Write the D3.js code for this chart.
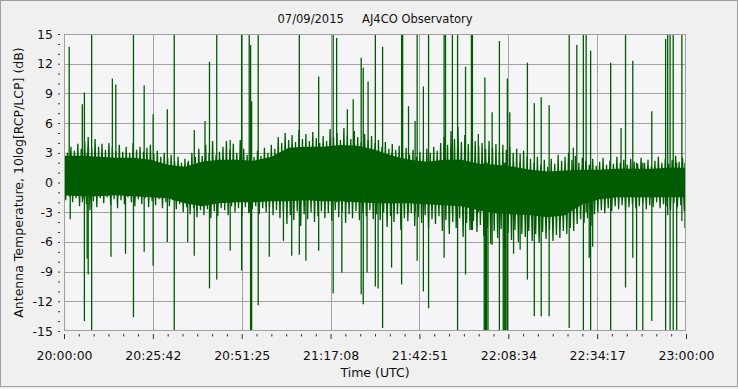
<!DOCTYPE html>
<html><head><meta charset="utf-8">
<script src="https://cdn.jsdelivr.net/npm/d3@7"></script>
<style>
body{margin:0;background:#f0f0f0}
svg{display:block}
text{font-family:"DejaVu Sans",sans-serif;fill:#111}
</style></head>
<body><svg id="c" width="738" height="389"></svg>
<script>
// ---- DATA (minutes after 20:00:00 UTC, values in dB) ----
const title = "07/09/2015     AJ4CO Observatory";
const yLabel = "Antenna Temperature, 10log[RCP/LCP] (dB)";
const xLabel = "Time (UTC)";
const xTickLabels = ["20:00:00","20:25:42","20:51:25","21:17:08","21:42:51","22:08:34","22:34:17","23:00:00"];
const yTickValues = [-15,-12,-9,-6,-3,0,3,6,9,12,15];
// dense-band fringe envelope, one value per minute (t = 0..180): max and min within each minute
const bandHi = [3.7,3.0,3.6,3.2,3.9,3.4,4.1,4.6,3.5,4.4,3.6,3.9,3.3,4.0,3.6,3.2,3.8,3.1,3.6,3.0,
 4.0,3.3,3.6,3.1,3.5,3.8,2.9,3.2,2.6,3.0,2.5,2.8,2.2,2.6,2.0,2.4,2.2,3.0,2.6,3.4,
 2.7,3.8,3.0,4.2,2.8,3.1,3.6,4.2,3.3,3.9,3.0,4.3,3.4,2.8,3.6,2.6,3.2,2.7,3.5,3.0,
 3.8,3.4,4.6,4.0,5.0,4.3,4.8,4.1,5.3,4.4,4.9,4.2,5.1,4.5,4.0,4.7,4.2,5.4,4.6,5.0,
 4.3,5.5,4.8,4.4,5.2,4.6,4.1,4.9,4.3,4.7,4.0,4.3,3.6,4.1,3.4,3.9,3.3,3.7,3.0,3.5,
 2.8,3.3,2.6,3.1,2.9,3.4,3.0,3.6,3.2,4.0,4.6,3.8,5.2,4.4,5.6,4.1,4.8,3.9,5.0,4.2,
 3.7,4.0,3.4,4.2,3.5,3.9,3.1,3.8,3.3,3.6,3.0,3.4,2.9,3.2,2.6,2.4,2.0,2.6,1.8,2.3,
 1.6,2.4,1.9,2.8,2.2,2.6,3.0,2.3,2.7,2.0,2.5,2.2,1.8,2.4,1.7,2.1,2.5,1.8,2.2,1.9,
 2.6,2.0,2.3,1.8,2.4,2.1,1.9,2.5,2.0,2.3,1.7,2.2,2.6,2.0,2.4,1.9,2.3,2.7,2.1,2.5,2.2];
const bandLo = [-1.8,-1.4,-2.0,-1.6,-2.4,-1.7,-2.2,-2.8,-1.9,-2.5,-1.6,-2.1,-1.5,-2.3,-1.7,-2.6,-1.8,-2.2,-1.5,-2.0,
 -2.4,-1.7,-2.2,-1.6,-2.5,-1.9,-2.3,-1.7,-2.6,-2.0,-2.4,-1.8,-2.7,-2.2,-3.0,-2.5,-3.2,-2.6,-3.5,-2.8,
 -3.3,-2.7,-3.6,-2.9,-3.4,-2.6,-2.8,-3.3,-2.4,-3.0,-2.6,-3.4,-2.5,-3.1,-2.7,-2.4,-3.2,-2.6,-3.0,-2.5,
 -3.3,-2.8,-3.6,-3.0,-4.2,-3.3,-3.8,-2.9,-4.4,-3.2,-3.7,-3.0,-4.0,-3.4,-2.9,-3.6,-3.1,-3.9,-2.8,-3.5,
 -3.0,-4.1,-3.2,-3.6,-2.9,-3.8,-3.1,-3.4,-2.8,-3.7,-3.2,-3.8,-3.0,-4.5,-3.4,-4.0,-3.2,-4.8,-3.6,-3.9,
 -3.1,-4.4,-3.5,-4.1,-3.3,-4.6,-3.7,-4.2,-3.4,-4.9,-3.8,-5.2,-4.0,-4.6,-3.6,-5.5,-4.1,-4.8,-3.9,-5.0,
 -4.3,-5.4,-4.6,-6.2,-4.9,-5.6,-4.7,-6.6,-5.1,-5.8,-4.8,-6.0,-5.2,-5.5,-4.9,-5.9,-5.2,-6.1,-5.0,-5.7,
 -4.8,-5.9,-5.3,-5.6,-4.9,-5.2,-4.6,-4.9,-4.2,-3.7,-4.1,-3.6,-4.4,-3.2,-3.0,-2.8,-3.1,-2.6,-2.9,-2.4,
 -2.7,-2.3,-2.8,-2.5,-2.2,-2.6,-2.4,-2.1,-2.7,-2.3,-2.5,-2.0,-2.6,-2.2,-2.4,-2.8,-2.1,-2.5,-2.3,-2.9,-2.4];
// solid core of the band, one value per 5 minutes (t = 0,5,..,180)
const coreHi = [2.7,2.7,2.6,2.5,2.5,2.3,1.8,1.6,2.1,2.3,2.3,2.2,2.6,3.5,3.6,3.6,3.8,3.7,3.3,2.7,
 2.3,2.1,2.3,2.3,1.9,1.8,1.6,1.3,1.1,1.2,1.3,1.3,1.4,1.4,1.4,1.5,1.5];
const coreLo = [-1.3,-1.4,-1.4,-1.3,-1.4,-1.5,-1.6,-2.1,-2.4,-2.1,-2.0,-2.0,-1.9,-1.9,-1.8,-1.9,-1.9,-2.0,-2.1,-2.1,
 -2.1,-2.2,-2.3,-2.4,-2.8,-3.1,-3.2,-3.3,-3.5,-3.3,-2.2,-1.7,-1.5,-1.5,-1.5,-1.5,-1.5];
// isolated spikes: [minute, low dB, high dB]
const spikes = [
 [1.5,-1.0,13.7],[1.8,-3.7,2.0],[5.3,-2.0,7.9],[5.9,-14.0,9.1],[6.7,-7.7,3.0],[7.0,-9.3,3.5],[8.0,-15,15],
 [13.6,-7.5,2.0],[14.0,-1.0,10.5],[15.0,-1.0,9.9],[17.8,-7.2,2.0],[20.1,-13.6,15],[23.2,-7.0,9.8],
 [25.8,-8.4,6.9],[29.9,-6.0,7.4],[31.9,-15,15],[35.8,-6.0,2.0],[37.7,-7.4,5.3],[40.8,-2.0,6.2],
 [42.1,-10.7,12.2],[44.2,-9.8,15],[48.1,-6.9,4.3],[51.4,-8.9,15],[53.6,-3.0,15],[54.0,-15,13.9],
 [54.3,-15,8.2],[56.2,-12.4,15],[59.4,-7.5,2.0],[63.5,-5.9,3.0],[65.9,-7.4,3.0],[68.1,-7.3,15],
 [70.0,-7.9,3.0],[73.7,-6.9,10.7],[77.9,-11.2,15],[78.9,-2.0,14.6],[80.4,-9.1,3.0],[82.0,-2.0,7.4],
 [83.7,-2.0,8.4],[86.0,-11.3,12.6],[86.6,-12.3,11.6],[87.7,-9.1,3.0],[88.0,-2.0,10.2],[90.1,-10.5,15],
 [90.9,-10.7,3.0],[92.2,-14.7,13.7],[94.8,-8.6,3.0],[97.7,-10.3,15],[98.0,-2.0,15],[99.7,-3.0,7.7],
 [101.6,-3.0,6.2],[102.2,-7.9,15],[104.0,-11.0,9.7],[105.5,-12.7,15],[110.0,-7.6,15],[110.4,-2.0,15],
 [112.4,-3.0,15],[113.9,-15,15],[116.2,-9.3,11.7],[117.9,-4.8,15],[118.2,-4.8,15],[119.9,-3.0,4.9],
 [121.6,-15,2.0],[121.8,-15,10.6],[122.0,-15,2.0],[122.3,-15,2.0],[122.7,-15,2.0],[123.9,-6.3,7.1],
 [126.0,-15,14.3],[127.1,-15,2.0],[127.4,-15,2.0],[127.7,-15,2.0],[127.9,-15,2.0],[128.3,-15,10.5],
 [129.0,-3.0,7.1],[130.1,-7.2,2.0],[132.0,-6.8,2.0],[134.1,-9.8,12.1],[136.1,-13.5,8.0],[138.1,-13.5,8.6],
 [140.4,-13.5,7.8],[146.2,-14.7,15],[147.4,-2.0,3.5],[148.4,-3.0,13.9],[150.3,-15,15],[151.1,-3.0,15],
 [152.0,-7.6,1.0],[152.4,-15,13.3],[153.0,-6.5,1.0],[158.2,-15,12.1],[161.2,-1.0,5.5],[162.5,-10.6,15],
 [164.6,-7.6,12.3],[165.7,-15,2.0],[167.5,-15,2.0],[170.1,-14.0,7.2],[174.1,-15,14.5],[174.7,-3.3,15],
 [175.4,-15,15],[176.3,-15,15],[177.3,-15,2.0],[178.8,-3.9,15],[179.7,-4.6,2.0]
];

// ---- LAYOUT ----
const svg = d3.select("#c");
const W = 738, H = 389;
const L = 64, R = 686, T = 34, B = 331;
const x = d3.scaleLinear().domain([0,180]).range([L,R]);
const y = d3.scaleLinear().domain([-15,15]).range([B,T]);
const green = "#005c00";

svg.append("rect").attr("x",0.5).attr("y",0.5).attr("width",W-1).attr("height",H-3)
  .attr("fill","#f0f0f0").attr("stroke","#a0a0a0");
svg.append("rect").attr("x",L).attr("y",T).attr("width",R-L).attr("height",B-T).attr("fill","#f5f5f8");

const majorX = d3.range(8).map(i => i*180/7);
const minorX = d3.range(43).map(i => i*180/42);
const minorY = d3.range(-15,16,1);

// grid
const grid = svg.append("g").attr("stroke","#a3a3a3").attr("stroke-width",1);
grid.selectAll(".gx").data(majorX.slice(1,-1)).join("line")
  .attr("x1",d=>Math.round(x(d))+0.5).attr("x2",d=>Math.round(x(d))+0.5).attr("y1",T).attr("y2",B);
grid.selectAll(".gy").data(yTickValues.slice(1,-1)).join("line")
  .attr("y1",d=>Math.round(y(d))+0.5).attr("y2",d=>Math.round(y(d))+0.5).attr("x1",L).attr("x2",R);

// clip
svg.append("clipPath").attr("id","pc").append("rect").attr("x",L).attr("y",T).attr("width",R-L).attr("height",B-T);
const plot = svg.append("g").attr("clip-path","url(#pc)");

// core band
const coreData = coreHi.map((h,i)=>({t:i*5,h,l:coreLo[i]}));
plot.append("path").datum(coreData)
  .attr("d", d3.area().x(d=>x(d.t)).y0(d=>y(d.l)).y1(d=>y(d.h)))
  .attr("fill",green);

// noise trace: in each minute the signal reaches its high, then its low half a minute later
const trace = [];
bandHi.forEach((h,i)=>{ trace.push([i,h]); if (i < 180) trace.push([i+0.5,bandLo[i]]); });
plot.append("path").datum(trace)
  .attr("d", d3.line().x(d=>x(d[0])).y(d=>y(d[1])))
  .attr("fill","none").attr("stroke",green).attr("stroke-width",1.3).attr("stroke-linejoin","miter");

// spikes
plot.append("g").attr("stroke",green).attr("stroke-width",1.3)
  .selectAll("line").data(spikes).join("line")
  .attr("x1",d=>x(d[0])).attr("x2",d=>x(d[0])).attr("y1",d=>y(d[1])).attr("y2",d=>y(d[2]));

// border
svg.append("rect").attr("x",L+0.5).attr("y",T+0.5).attr("width",R-L-1).attr("height",B-T-1)
  .attr("fill","none").attr("stroke","#a0a0a0");

// x axis
const xAxis = d3.axisBottom(x).tickValues(majorX).tickSize(5).tickPadding(12)
  .tickFormat((d,i)=>xTickLabels[i]);
const gx = svg.append("g").attr("transform",`translate(0,${B+3})`).call(xAxis);
gx.select(".domain").remove();
gx.selectAll("text").attr("font-size",12.5).attr("fill","#111");
gx.selectAll("line").attr("stroke","#333");
const gxm = svg.append("g").attr("transform",`translate(0,${B+3})`)
  .call(d3.axisBottom(x).tickValues(minorX.filter((d,i)=>i%6)).tickSize(2.5).tickFormat(""));
gxm.select(".domain").remove(); gxm.selectAll("line").attr("stroke","#333");

// y axis
const yAxis = d3.axisLeft(y).tickValues(yTickValues).tickSize(2).tickPadding(5).tickFormat(d3.format("d"));
const gy = svg.append("g").attr("transform",`translate(${L-4},0)`).call(yAxis);
gy.select(".domain").remove();
gy.selectAll("text").attr("font-size",12.5).attr("fill","#111").text(d=>d<0?"-"+Math.abs(d):d);
gy.selectAll("line").attr("stroke","#333");
const gym = svg.append("g").attr("transform",`translate(${L-4},0)`)
  .call(d3.axisLeft(y).tickValues(minorY.filter(d=>d%3!==0)).tickSize(2).tickFormat(""));
gym.select(".domain").remove(); gym.selectAll("line").attr("stroke","#333");

// titles
svg.append("text").attr("x",375).attr("y",23).attr("text-anchor","middle").attr("font-size",11.5)
  .attr("xml:space","preserve").style("white-space","pre").text(title);
svg.append("text").attr("x",375).attr("y",377).attr("text-anchor","middle").attr("font-size",12.5).text(xLabel);
svg.append("text").attr("transform",`translate(23,${(T+B)/2}) rotate(-90)`).attr("text-anchor","middle")
  .attr("font-size",12.5).text(yLabel);
</script></body></html>
